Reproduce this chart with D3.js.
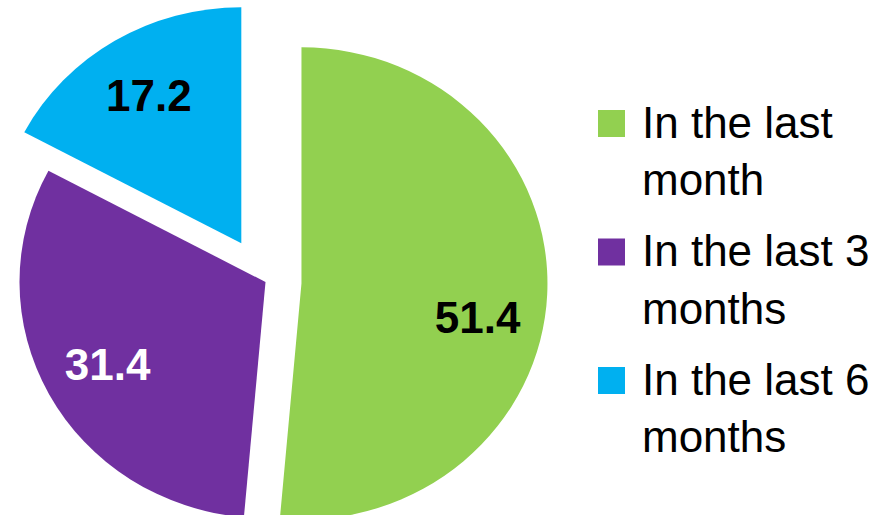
<!DOCTYPE html>
<html>
<head>
<meta charset="utf-8">
<script src="https://cdn.jsdelivr.net/npm/d3@7"></script>
<style>
  html, body { margin: 0; padding: 0; background: #ffffff; }
  svg { display: block; }
  text { font-family: "Liberation Sans", Arial, sans-serif; }
</style>
</head>
<body>
<svg id="chart" width="882" height="515"></svg>
<script>
// Share of respondents by recency
const categories = ["In the last month", "In the last 3 months", "In the last 6 months"];
const values = [51.4, 31.4, 17.2];
const colors = ["#92D050", "#7030A0", "#00B0F0"];
const labelColors = ["#000000", "#ffffff", "#000000"];

// Geometry / style settings
const cx = 265.5, cy = 282;
const rx = 246, yScale = 0.96;           // slightly flattened pie
const explode = [36, 0, 47];             // slice pull-out distance
const labelRadius = 0.73;                // fraction of radius for value labels
const labelAngleNudge = [0.15, 0, 0];    // radians, extra rotation for a label

const svg = d3.select("#chart");

const pie = d3.pie().sort(null).value(d => d);
const arcs = pie(values);
const arc = d3.arc().innerRadius(0).outerRadius(rx);

const slices = svg.append("g").attr("class", "slices");

arcs.forEach((a, i) => {
  const mid = (a.startAngle + a.endAngle) / 2;
  const ox = cx + explode[i] * Math.sin(mid);
  const oy = cy - explode[i] * Math.cos(mid) * yScale;
  const g = slices.append("g")
    .attr("transform", `translate(${ox},${oy})`);
  g.append("path")
    .attr("d", arc(a))
    .attr("transform", `scale(1,${yScale})`)
    .attr("fill", colors[i]);

  const la = mid + labelAngleNudge[i];
  const lx = Math.sin(la) * rx * labelRadius;
  const ly = -Math.cos(la) * rx * labelRadius * yScale;
  g.append("text")
    .attr("x", lx)
    .attr("y", ly)
    .attr("dy", "0.36em")
    .attr("text-anchor", "middle")
    .attr("font-size", 44)
    .attr("font-weight", "bold")
    .attr("fill", labelColors[i])
    .text(d3.format(".1f")(values[i]));
});

// Legend
const legendX = 598, legendTop = 110, swatch = 27;
const entryGap = 128.5, lineGap = 57.5, textX = 642, wrapWidth = 240;

const legend = svg.append("g").attr("class", "legend");
categories.forEach((c, i) => {
  const top = legendTop + i * entryGap;
  legend.append("rect")
    .attr("x", legendX).attr("y", top)
    .attr("width", swatch).attr("height", swatch)
    .attr("fill", colors[i]);

  const t = legend.append("text")
    .attr("font-size", 44)
    .attr("fill", "#000000");
  const words = c.split(" ");
  let line = [];
  let lineNo = 0;
  let tspan = t.append("tspan").attr("x", textX).attr("y", top + swatch + 0.5);
  words.forEach(w => {
    line.push(w);
    tspan.text(line.join(" "));
    if (tspan.node().getComputedTextLength() > wrapWidth && line.length > 1) {
      line.pop();
      tspan.text(line.join(" "));
      line = [w];
      lineNo++;
      tspan = t.append("tspan")
        .attr("x", textX)
        .attr("y", top + swatch + 0.5 + lineNo * lineGap)
        .text(w);
    }
  });
});
</script>
</body>
</html>
